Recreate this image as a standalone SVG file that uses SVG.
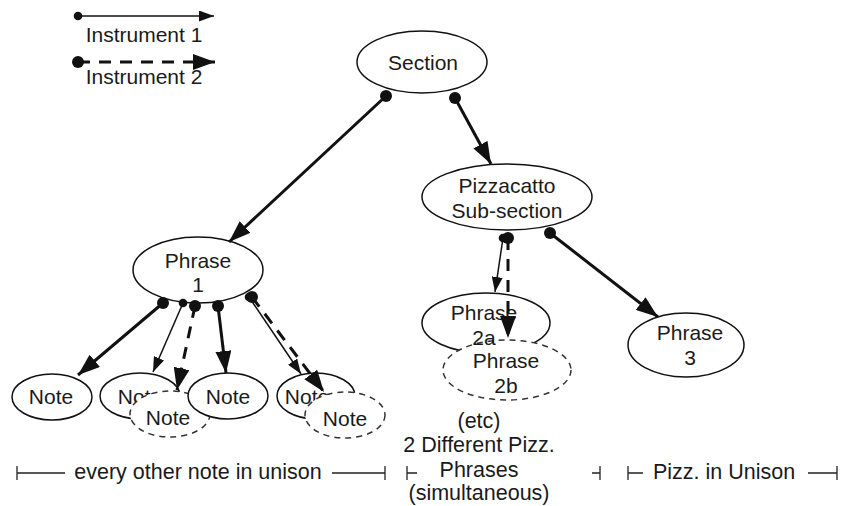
<svg xmlns="http://www.w3.org/2000/svg" width="845" height="506" viewBox="0 0 845 506">
  <style>
    text { font-family: "Liberation Sans", Arial, sans-serif; font-size: 21px; fill: #1a1a1a; text-anchor: middle; }
    .range text { font-size: 21.5px; }
    .node { fill: #fff; stroke: #111; stroke-width: 1.5; }
    .dnode { fill: #fff; stroke: #333; stroke-width: 1.5; stroke-dasharray: 6 5; }
    .inst1 { fill: none; stroke: #111; stroke-width: 1.5; marker-start: url(#dotS); marker-end: url(#arrS); }
    .inst2 { fill: none; stroke: #111; stroke-width: 3; stroke-dasharray: 12 9; marker-start: url(#dotB); marker-end: url(#arrB); }
    .both { fill: none; stroke: #111; stroke-width: 3; marker-start: url(#dotB); marker-end: url(#arrB); }
    .tick { fill: none; stroke: #222; stroke-width: 1.3; }
  </style>
  <defs>
    <marker id="arrS" markerUnits="userSpaceOnUse" markerWidth="15" markerHeight="11" refX="15" refY="5.5" orient="auto">
      <path d="M0,0 L15,5.5 L0,11 z" fill="#111"/>
    </marker>
    <marker id="arrB" markerUnits="userSpaceOnUse" markerWidth="22" markerHeight="16" refX="22" refY="8" orient="auto">
      <path d="M0,0 L22,8 L0,16 z" fill="#111"/>
    </marker>
    <marker id="dotS" markerUnits="userSpaceOnUse" markerWidth="10" markerHeight="10" refX="5" refY="5">
      <circle cx="5" cy="5" r="4.3" fill="#111"/>
    </marker>
    <marker id="dotB" markerUnits="userSpaceOnUse" markerWidth="14" markerHeight="14" refX="7" refY="7">
      <circle cx="7" cy="7" r="6" fill="#111"/>
    </marker>
  </defs>

  <!-- legend -->
  <g id="legend">
    <line class="inst1" x1="78" y1="16" x2="214" y2="16"/>
    <text x="144" y="42">Instrument 1</text>
    <line class="inst2" x1="78" y1="62" x2="215" y2="62"/>
    <text x="144" y="84">Instrument 2</text>
  </g>

  <!-- nodes -->
  <g id="section">
    <ellipse class="node" cx="422" cy="62" rx="65" ry="31"/>
    <text x="423" y="70">Section</text>
  </g>
  <g id="phrase1">
    <ellipse class="node" cx="198" cy="270" rx="65" ry="33"/>
    <text x="198" y="268">Phrase</text>
    <text x="198" y="292">1</text>
  </g>
  <g id="pizz">
    <ellipse class="node" cx="507" cy="197" rx="85" ry="33"/>
    <text x="507" y="193">Pizzacatto</text>
    <text x="507" y="218">Sub-section</text>
  </g>
  <g id="phrase2a">
    <ellipse class="node" cx="486" cy="323" rx="64" ry="30"/>
  </g>
  <g id="phrase2b">
    <ellipse class="dnode" cx="507" cy="370" rx="64" ry="30"/>
    <text x="506" y="368">Phrase</text>
    <text x="506" y="393">2b</text>
  </g>
  <g id="phrase2a-label">
    <text x="484" y="320">Phrase</text>
    <text x="484" y="345">2a</text>
  </g>
  <g id="phrase3">
    <ellipse class="node" cx="686" cy="345" rx="58" ry="32"/>
    <text x="690" y="340">Phrase</text>
    <text x="690" y="365">3</text>
  </g>
  <g id="note1">
    <ellipse class="node" cx="52" cy="397" rx="40" ry="23"/>
    <text x="51" y="404">Note</text>
  </g>
  <g id="note2">
    <ellipse class="node" cx="140" cy="396" rx="40" ry="23"/>
    <text x="140" y="404">Note</text>
  </g>
  <g id="note2b">
    <ellipse class="dnode" cx="170" cy="414" rx="40" ry="23"/>
    <text x="168" y="425">Note</text>
  </g>
  <g id="note3">
    <ellipse class="node" cx="228" cy="396" rx="40" ry="23"/>
    <text x="228" y="404">Note</text>
  </g>
  <g id="note4">
    <ellipse class="node" cx="316" cy="396" rx="39" ry="23"/>
    <text x="307" y="404">Note</text>
  </g>
  <g id="note4b">
    <ellipse class="dnode" cx="345" cy="415" rx="40" ry="23"/>
    <text x="345" y="426">Note</text>
  </g>

  <!-- connectors -->
  <g id="connectors">
    <line class="both" x1="386" y1="96" x2="229" y2="242"/>
    <line class="both" x1="455" y1="98" x2="491" y2="164"/>
    <line class="inst1" x1="503" y1="238" x2="495" y2="292"/>
    <line class="inst2" x1="508" y1="238" x2="508" y2="338"/>
    <line class="both" x1="550" y1="233" x2="658" y2="317"/>
    <line class="both" x1="163" y1="303" x2="78" y2="375"/>
    <line class="inst1" x1="183" y1="303" x2="153" y2="372"/>
    <line class="inst2" x1="195" y1="306" x2="177" y2="390"/>
    <line class="both" x1="218" y1="306" x2="226" y2="373"/>
    <line class="inst1" x1="249" y1="297" x2="301" y2="374"/>
    <line class="inst2" x1="252" y1="297" x2="324" y2="392"/>
  </g>

  <!-- range labels -->
  <g id="range-unison" class="range">
    <path class="tick" d="M17,466 V480 M17,473 H65 M332,473 H385 M385,466 V480"/>
    <text x="198" y="479">every other note in unison</text>
  </g>
  <g id="range-pizz" class="range">
    <path class="tick" d="M407,466 V480 M407,473 H417 M592,473 H600 M600,466 V480"/>
    <text x="479" y="428">(etc)</text>
    <text x="479" y="452">2 Different Pizz.</text>
    <text x="479" y="477">Phrases</text>
    <text x="479" y="500">(simultaneous)</text>
  </g>
  <g id="range-unison2" class="range">
    <path class="tick" d="M628,466 V480 M628,473 H643 M808,473 H837 M837,466 V480"/>
    <text x="724" y="479">Pizz. in Unison</text>
  </g>
</svg>
